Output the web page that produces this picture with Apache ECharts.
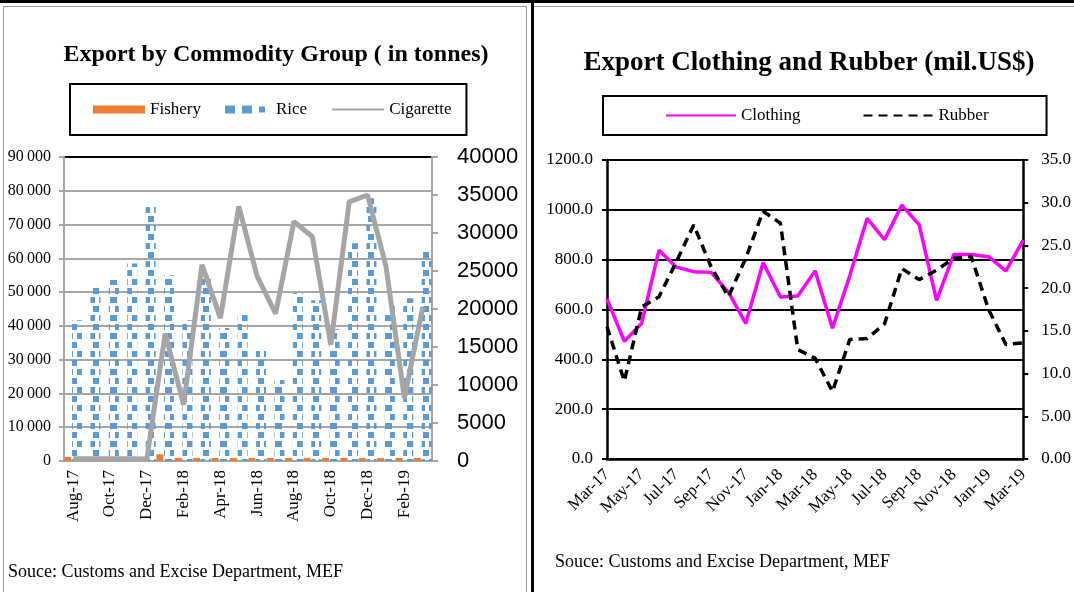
<!DOCTYPE html>
<html><head><meta charset="utf-8">
<script src="https://cdn.jsdelivr.net/npm/echarts@6/dist/echarts.min.js"></script>
<style>html,body{margin:0;padding:0;background:#fff}#c{width:1074px;height:592px}</style>
</head><body><div id="c"></div>
<script>
// ---------- Left chart data ----------
const leftCategories = ['Aug-17','Sep-17','Oct-17','Nov-17','Dec-17','Jan-18','Feb-18','Mar-18','Apr-18','May-18','Jun-18','Jul-18','Aug-18','Sep-18','Oct-18','Nov-18','Dec-18','Jan-19','Feb-19','Mar-19'];
const fishery   = [1200, 600, 600, 600, 600, 2000, 900, 900, 900, 900, 900, 900, 900, 900, 900, 900, 900, 900, 900, 900];
const rice      = [41700, 51300, 53600, 58500, 76000, 55000, 41700, 55000, 39400, 43800, 33000, 24000, 49700, 47600, 39000, 64500, 77800, 46800, 48200, 62400];
const cigarette = [300, 300, 300, 300, 250, 16800, 7400, 25800, 18800, 33500, 24300, 19400, 31500, 29500, 15300, 34100, 35000, 25600, 8300, 20300];
const tonnesTickLabels = ['0','10\u2009000','20\u2009000','30\u2009000','40\u2009000','50\u2009000','60\u2009000','70\u2009000','80\u2009000','90\u2009000'];
const cigTickLabels = ['0','5000','10000','15000','20000','25000','30000','35000','40000'];

// ---------- Right chart data ----------
const rightCategories = ['Mar-17','Apr-17','May-17','Jun-17','Jul-17','Aug-17','Sep-17','Oct-17','Nov-17','Dec-17','Jan-18','Feb-18','Mar-18','Apr-18','May-18','Jun-18','Jul-18','Aug-18','Sep-18','Oct-18','Nov-18','Dec-18','Jan-19','Feb-19','Mar-19'];
const clothing = [643, 472, 545, 838, 770, 752, 749, 670, 544, 788, 650, 654, 755, 525, 736, 966, 880, 1019, 940, 637, 821, 821, 812, 755, 878];
const rubber   = [15.5, 9.1, 17.8, 19.0, 23.1, 27.4, 22.5, 19.0, 23.5, 29.0, 27.6, 12.8, 11.8, 7.9, 14.0, 14.1, 15.8, 22.3, 21.0, 22.1, 23.5, 23.7, 17.5, 13.4, 13.6];
const usdTickLabels = ['0.0','200.0','400.0','600.0','800.0','1000.0','1200.0'];
const rubberTickLabels = ['0.00','5.00','10.0','15.0','20.0','25.0','30.0','35.0'];

const SERIF = '"Liberation Serif", "Times New Roman", serif';
const SANS = '"Liberation Sans", Arial, sans-serif';
const GRAY = '#a6a6a6';
const BLUE = '#5B9BD5';

const chart = echarts.init(document.getElementById('c'), null, {renderer: 'canvas'});

const gridColorsLeft = [GRAY, GRAY, GRAY, GRAY, GRAY, GRAY, GRAY, GRAY, GRAY, '#000'];
const noSymbol = {opacity: 0};

const option = {
  animation: false,
  backgroundColor: '#fff',
  grid: [
    {left: 64, right: 642, top: 157, bottom: 131},
    {left: 607, right: 50, top: 160, bottom: 133}
  ],
  legend: [
    {
      data: [
        {name: 'Fishery', icon: 'rect'},
        {name: 'Rice', icon: 'path://M0,0h10v8h-10zM17,0h10v8h-10zM34,1h6v6h-6z', itemStyle: {color: BLUE, decal: 'none'}},
        {name: 'Cigarette', itemStyle: noSymbol}
      ],
      left: 70, top: 84,
      padding: [17, 15, 17, 23],
      itemGap: 24, itemWidth: 52, itemHeight: 8,
      borderColor: '#000', borderWidth: 2,
      textStyle: {fontFamily: SERIF, fontSize: 17, color: '#000'}
    },
    {
      data: [
        {name: 'Clothing', itemStyle: noSymbol},
        {name: 'Rubber', itemStyle: noSymbol}
      ],
      left: 603, top: 96,
      padding: [11, 58, 11, 62],
      itemGap: 62, itemWidth: 70, itemHeight: 8,
      borderColor: '#000', borderWidth: 2,
      textStyle: {fontFamily: SERIF, fontSize: 17, color: '#000'}
    }
  ],
  xAxis: [
    {
      gridIndex: 0, type: 'category', data: leftCategories, boundaryGap: true,
      axisLine: {lineStyle: {color: GRAY, width: 2}},
      axisTick: {interval: 1, length: 6, lineStyle: {color: GRAY, width: 2}},
      axisLabel: {interval: 1, rotate: 90, fontFamily: SERIF, fontSize: 17, color: '#000', margin: 9}
    },
    {
      gridIndex: 1, type: 'category', data: rightCategories, boundaryGap: false,
      axisLine: {lineStyle: {color: '#000', width: 2.5}},
      axisTick: {show: false},
      axisLabel: {interval: 1, rotate: 45, fontFamily: SERIF, fontSize: 17, color: '#000', margin: 13}
    }
  ],
  yAxis: [
    {
      gridIndex: 0, type: 'value', min: 0, max: 90000, interval: 10000, position: 'left',
      axisLine: {show: true, lineStyle: {color: GRAY, width: 2}},
      axisTick: {show: true, length: 5, lineStyle: {color: GRAY, width: 2}},
      splitLine: {show: true, lineStyle: {color: gridColorsLeft, width: 2}},
      axisLabel: {fontFamily: SERIF, fontSize: 16, color: '#000', margin: 13,
        formatter: v => tonnesTickLabels[Math.round(v / 10000)]}
    },
    {
      gridIndex: 0, type: 'value', min: 0, max: 40000, interval: 5000, position: 'right',
      axisLine: {show: true, lineStyle: {color: GRAY, width: 2}},
      axisTick: {show: true, length: 6, lineStyle: {color: GRAY, width: 2}},
      splitLine: {show: false},
      axisLabel: {fontFamily: SANS, fontSize: 22, color: '#000', margin: 25,
        formatter: v => cigTickLabels[Math.round(v / 5000)]}
    },
    {
      gridIndex: 1, type: 'value', min: 0, max: 1200, interval: 200, position: 'left',
      axisLine: {show: true, lineStyle: {color: '#000', width: 2.5}},
      axisTick: {show: true, length: 5, lineStyle: {color: '#000', width: 2}},
      splitLine: {show: true, lineStyle: {color: '#000', width: 2}},
      axisLabel: {fontFamily: SERIF, fontSize: 17, color: '#000', margin: 14,
        formatter: v => usdTickLabels[Math.round(v / 200)]}
    },
    {
      gridIndex: 1, type: 'value', min: 0, max: 35, interval: 5, position: 'right',
      axisLine: {show: true, lineStyle: {color: '#000', width: 2.5}},
      axisTick: {show: true, length: 5, lineStyle: {color: '#000', width: 2}},
      splitLine: {show: false},
      axisLabel: {fontFamily: SERIF, fontSize: 17, color: '#000', margin: 18,
        formatter: v => rubberTickLabels[Math.round(v / 5)]}
    }
  ],
  series: [
    {
      name: 'Fishery', type: 'bar', xAxisIndex: 0, yAxisIndex: 0, data: fishery,
      barWidth: 7, barGap: '10%',
      itemStyle: {color: '#ED7D31'}
    },
    {
      name: 'Rice', type: 'bar', xAxisIndex: 0, yAxisIndex: 0, data: rice,
      barWidth: 10,
      itemStyle: {
        color: 'rgba(255,255,255,0)',
        decal: {
          symbol: 'rect', symbolSize: 1, color: BLUE,
          dashArrayX: [[7, 4], [0, 5, 6, 0]],
          dashArrayY: [6, 3],
          rotation: 0
        }
      }
    },
    {
      name: 'Cigarette', type: 'line', xAxisIndex: 0, yAxisIndex: 1, data: cigarette,
      symbol: 'none', lineStyle: {color: '#A5A5A5', width: 5}, itemStyle: {color: '#A5A5A5'}
    },
    {
      name: 'Clothing', type: 'line', xAxisIndex: 1, yAxisIndex: 2, data: clothing,
      symbol: 'none', lineStyle: {color: '#FF00FF', width: 3.5}, itemStyle: {color: '#FF00FF'}
    },
    {
      name: 'Rubber', type: 'line', xAxisIndex: 1, yAxisIndex: 3, data: rubber,
      symbol: 'none', lineStyle: {color: '#000', width: 3.5, type: [9, 6]}, itemStyle: {color: '#000'}
    }
  ],
  graphic: [
    {type: 'line', shape: {x1: 0, y1: 1.5, x2: 1074, y2: 1.5}, style: {stroke: '#000', lineWidth: 3}, silent: true},
    {type: 'line', shape: {x1: 532.5, y1: 0, x2: 532.5, y2: 592}, style: {stroke: '#000', lineWidth: 3}, silent: true},
    {type: 'rect', shape: {x: 3.5, y: 6.5, width: 523, height: 600}, style: {stroke: '#9a9a9a', fill: null, lineWidth: 1}, silent: true},
    {type: 'line', shape: {x1: 534, y1: 6.5, x2: 1074, y2: 6.5}, style: {stroke: '#9a9a9a', lineWidth: 1}, silent: true},
    {type: 'text', x: 276, y: 55, silent: true,
      style: {text: 'Export by Commodity Group ( in tonnes)', font: 'bold 24px ' + SERIF, fill: '#000',
        textAlign: 'center', textVerticalAlign: 'middle', align: 'center', verticalAlign: 'middle'}},
    {type: 'text', x: 809, y: 63, silent: true,
      style: {text: 'Export Clothing and Rubber (mil.US$)', font: 'bold 27px ' + SERIF, fill: '#000',
        textAlign: 'center', textVerticalAlign: 'middle', align: 'center', verticalAlign: 'middle'}},
    {type: 'text', x: 8, y: 572, silent: true,
      style: {text: 'Souce: Customs and Excise Department, MEF', font: '18px ' + SERIF, fill: '#000',
        textAlign: 'left', textVerticalAlign: 'middle', align: 'left', verticalAlign: 'middle'}},
    {type: 'text', x: 555, y: 562, silent: true,
      style: {text: 'Souce: Customs and Excise Department, MEF', font: '18px ' + SERIF, fill: '#000',
        textAlign: 'left', textVerticalAlign: 'middle', align: 'left', verticalAlign: 'middle'}}
  ]
};
chart.setOption(option);
</script>
</body></html>
